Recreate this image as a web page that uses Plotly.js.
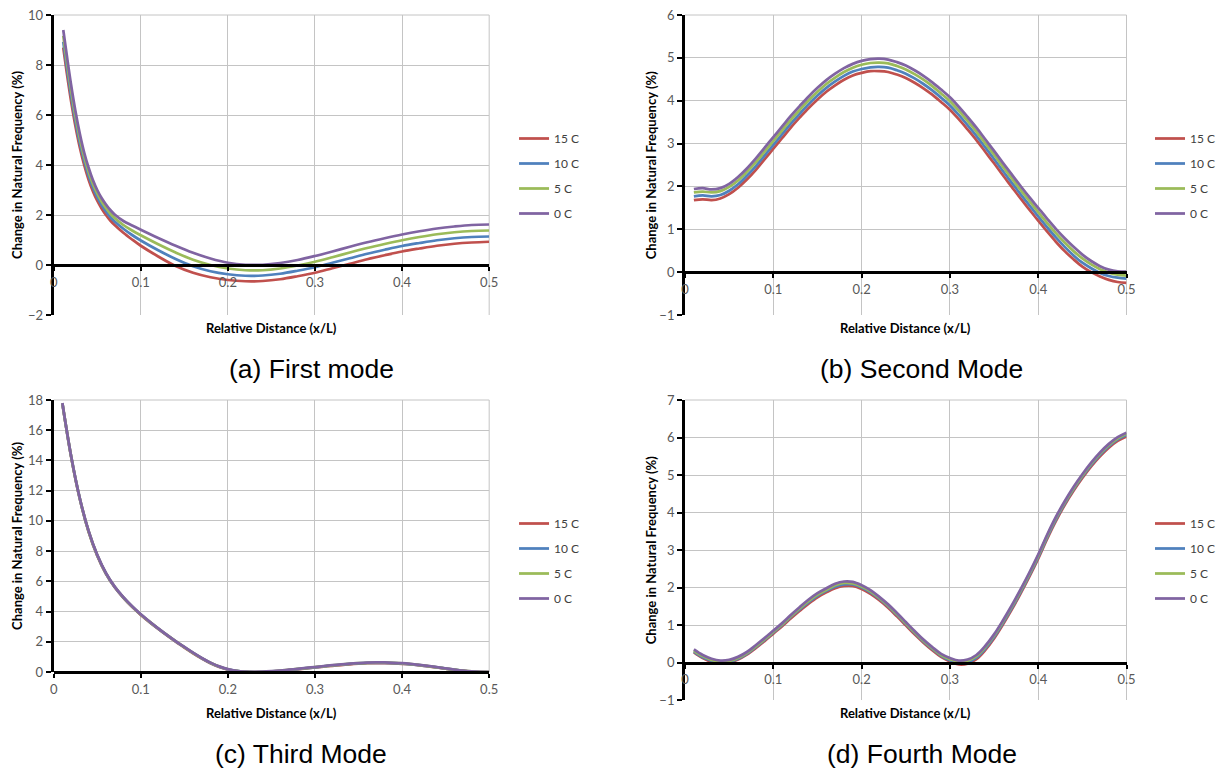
<!DOCTYPE html>
<html>
<head>
<meta charset="utf-8">
<script src="https://cdn.plot.ly/plotly-3.0.1.min.js"></script>
<style>html,body{margin:0;padding:0;background:#fff;}#chart{width:1221px;height:770px;}</style>
</head>
<body>
<div id="chart"></div>
<script>
// ---------------- DATA ----------------
const seriesNames = ["15 C", "10 C", "5 C", "0 C"];
const seriesColors = ["#C0504D", "#4F81BD", "#9BBB59", "#8064A2"];

const xFirst = [0.011,0.015,0.02,0.025,0.03,0.035,0.04,0.045,0.05,0.055,0.06,0.065,0.07,0.08,0.09,0.1,0.12,0.14,0.16,0.18,0.2,0.22,0.24,0.26,0.28,0.3,0.32,0.34,0.36,0.38,0.4,0.42,0.44,0.46,0.48,0.5];
const first15 = [8.7,7.7,6.55,5.55,4.7,4.0,3.42,2.95,2.57,2.26,2.0,1.78,1.6,1.29,1.02,0.77,0.34,-0.04,-0.31,-0.49,-0.6,-0.65,-0.64,-0.57,-0.45,-0.31,-0.13,0.05,0.23,0.39,0.54,0.66,0.77,0.85,0.9,0.93];
const first10 = [8.93,7.93,6.77,5.75,4.88,4.17,3.58,3.1,2.71,2.4,2.14,1.92,1.74,1.45,1.2,0.98,0.59,0.24,-0.05,-0.25,-0.37,-0.43,-0.42,-0.35,-0.23,-0.09,0.09,0.27,0.45,0.61,0.76,0.88,0.99,1.07,1.12,1.14];
const first5  = [9.17,8.17,6.99,5.95,5.07,4.33,3.74,3.25,2.86,2.54,2.28,2.06,1.88,1.6,1.38,1.19,0.83,0.5,0.21,0.0,-0.14,-0.21,-0.21,-0.14,-0.02,0.13,0.31,0.5,0.68,0.84,0.99,1.12,1.23,1.31,1.36,1.38];
const first0  = [9.4,8.4,7.2,6.15,5.25,4.5,3.9,3.4,3.0,2.68,2.42,2.2,2.02,1.76,1.58,1.41,1.08,0.77,0.49,0.26,0.09,0.01,0.01,0.08,0.2,0.36,0.54,0.73,0.91,1.07,1.22,1.35,1.46,1.54,1.6,1.62];

const xFine = [0.01,0.02,0.03,0.04,0.05,0.06,0.07,0.08,0.09,0.1,0.11,0.12,0.13,0.14,0.15,0.16,0.17,0.18,0.19,0.2,0.21,0.22,0.23,0.24,0.25,0.26,0.27,0.28,0.29,0.3,0.31,0.32,0.33,0.34,0.35,0.36,0.37,0.38,0.39,0.4,0.41,0.42,0.43,0.44,0.45,0.46,0.47,0.48,0.49,0.5];

const second15 = [1.68,1.7,1.68,1.72,1.82,1.97,2.16,2.38,2.63,2.88,3.13,3.38,3.61,3.83,4.03,4.21,4.36,4.49,4.59,4.65,4.69,4.69,4.67,4.61,4.53,4.42,4.29,4.14,3.97,3.79,3.57,3.33,3.08,2.81,2.54,2.26,1.99,1.72,1.46,1.2,0.95,0.71,0.49,0.3,0.13,0.0,-0.1,-0.18,-0.23,-0.25];
const second10 = [1.77,1.79,1.77,1.8,1.9,2.05,2.25,2.47,2.72,2.97,3.22,3.47,3.7,3.92,4.12,4.3,4.45,4.58,4.68,4.74,4.78,4.79,4.77,4.71,4.63,4.52,4.39,4.24,4.07,3.89,3.67,3.43,3.18,2.91,2.64,2.36,2.09,1.82,1.56,1.3,1.05,0.81,0.59,0.39,0.22,0.09,-0.02,-0.09,-0.13,-0.15];
const second5  = [1.86,1.88,1.86,1.89,1.99,2.14,2.34,2.56,2.81,3.06,3.31,3.56,3.79,4.01,4.21,4.39,4.54,4.67,4.77,4.84,4.88,4.89,4.87,4.81,4.73,4.62,4.49,4.34,4.17,3.99,3.77,3.53,3.28,3.01,2.74,2.46,2.19,1.92,1.66,1.4,1.15,0.91,0.69,0.49,0.32,0.18,0.07,-0.01,-0.06,-0.08];
const second0  = [1.94,1.96,1.93,1.96,2.06,2.22,2.42,2.65,2.9,3.15,3.4,3.65,3.88,4.1,4.3,4.48,4.63,4.76,4.86,4.93,4.97,4.98,4.96,4.9,4.82,4.71,4.58,4.43,4.26,4.08,3.86,3.62,3.37,3.1,2.83,2.55,2.28,2.01,1.75,1.5,1.25,1.01,0.79,0.59,0.41,0.26,0.14,0.06,0.02,0.01];

const third15 = [17.75,14.25,11.45,9.3,7.7,6.5,5.61,4.91,4.31,3.78,3.3,2.85,2.42,2.01,1.62,1.24,0.89,0.58,0.34,0.16,0.06,0.01,-0.01,0.0,0.03,0.07,0.12,0.18,0.24,0.3,0.36,0.41,0.46,0.51,0.55,0.58,0.59,0.59,0.57,0.54,0.5,0.44,0.37,0.3,0.22,0.14,0.08,0.03,0.0,-0.01];
const third10 = [17.77,14.27,11.47,9.32,7.72,6.52,5.63,4.93,4.33,3.8,3.32,2.87,2.44,2.03,1.64,1.26,0.91,0.6,0.35,0.17,0.07,0.02,0.0,0.01,0.04,0.08,0.13,0.19,0.25,0.31,0.37,0.43,0.48,0.53,0.57,0.6,0.61,0.61,0.59,0.56,0.51,0.45,0.38,0.31,0.23,0.15,0.08,0.03,0.0,0.0];
const third5  = [17.78,14.28,11.48,9.33,7.73,6.53,5.64,4.94,4.34,3.81,3.33,2.88,2.45,2.04,1.65,1.27,0.92,0.61,0.36,0.18,0.07,0.02,0.0,0.01,0.04,0.08,0.14,0.2,0.26,0.32,0.38,0.44,0.49,0.54,0.58,0.61,0.62,0.62,0.6,0.57,0.52,0.46,0.39,0.31,0.23,0.15,0.09,0.04,0.01,0.0];
const third0  = [17.8,14.3,11.5,9.35,7.75,6.55,5.65,4.95,4.35,3.82,3.34,2.89,2.46,2.05,1.66,1.28,0.93,0.62,0.37,0.19,0.08,0.03,0.01,0.02,0.05,0.09,0.15,0.21,0.27,0.33,0.39,0.45,0.5,0.55,0.59,0.62,0.63,0.63,0.61,0.58,0.53,0.47,0.4,0.32,0.24,0.16,0.09,0.04,0.01,0.0];

const fourth15 = [0.27,0.12,0.02,-0.02,0.0,0.08,0.21,0.38,0.57,0.77,0.97,1.18,1.38,1.57,1.74,1.87,1.98,2.04,2.04,1.96,1.83,1.66,1.46,1.23,0.99,0.75,0.53,0.33,0.15,0.03,-0.05,-0.03,0.09,0.33,0.64,1.01,1.41,1.84,2.29,2.77,3.29,3.77,4.2,4.58,4.92,5.23,5.5,5.73,5.91,6.03];
const fourth10 = [0.29,0.14,0.05,0.0,0.02,0.1,0.23,0.41,0.6,0.8,1.0,1.22,1.42,1.61,1.78,1.91,2.02,2.08,2.08,2.0,1.87,1.7,1.5,1.27,1.03,0.79,0.56,0.36,0.18,0.06,-0.01,0.01,0.13,0.37,0.68,1.05,1.45,1.88,2.33,2.81,3.33,3.81,4.24,4.62,4.96,5.27,5.54,5.77,5.95,6.07];
const fourth5  = [0.32,0.17,0.07,0.02,0.04,0.12,0.25,0.43,0.62,0.82,1.02,1.24,1.45,1.64,1.81,1.94,2.06,2.12,2.11,2.03,1.9,1.72,1.52,1.29,1.05,0.81,0.58,0.38,0.2,0.09,0.02,0.05,0.17,0.41,0.72,1.09,1.49,1.92,2.37,2.85,3.37,3.85,4.27,4.65,4.99,5.3,5.57,5.8,5.98,6.1];
const fourth0  = [0.35,0.2,0.1,0.05,0.07,0.15,0.28,0.46,0.65,0.85,1.05,1.27,1.48,1.68,1.85,1.98,2.1,2.16,2.15,2.06,1.93,1.75,1.55,1.32,1.08,0.84,0.61,0.41,0.23,0.12,0.05,0.08,0.2,0.44,0.75,1.12,1.52,1.95,2.4,2.88,3.4,3.88,4.3,4.68,5.02,5.33,5.6,5.83,6.01,6.13];

const captions = ["(a) First mode", "(b) Second Mode", "(c) Third Mode", "(d) Fourth Mode"];
const xTitle = "Relative Distance (x/L)";
const yTitle = "Change in Natural Frequency (%)";
const yRanges = [[-2, 10], [-1, 6], [0, 18], [-1, 7]];
const yDticks = [2, 1, 2, 1];

// ---------------- LAYOUT ----------------
const W = 1221, H = 770;
const px = v => v / W;
const py = v => 1 - v / H;

const panels = [
  {x: xFirst, ys: [first15, first10, first5, first0], xd: [54, 492], yd: [315, 15], leg: [517, 124]},
  {x: xFine,  ys: [second15, second10, second5, second0], xd: [689, 1133], yd: [315, 15], leg: [1157, 124]},
  {x: xFine,  ys: [third15, third10, third5, third0], xd: [54, 492], yd: [672, 400], leg: [517, 509]},
  {x: xFine,  ys: [fourth15, fourth10, fourth5, fourth0], xd: [689, 1133], yd: [700, 400], leg: [1157, 509]}
];
const capPos = [[313, 369], [927, 369], [303, 754], [927, 754]];
const xTitlePos = [328, 328, 713, 713];
const yTitleX = [17, 655, 17, 655];

const FONT = "Lato, 'Open Sans', sans-serif";
const traces = [];
const layout = {
  width: W, height: H,
  margin: {l: 0, r: 0, t: 0, b: 0},
  paper_bgcolor: "#ffffff", plot_bgcolor: "#ffffff",
  font: {family: FONT, size: 13, color: "#595959"},
  annotations: [], shapes: []
};

panels.forEach((p, i) => {
  const n = i === 0 ? "" : String(i + 1);
  const legName = "legend" + n;
  p.ys.forEach((ys, k) => {
    traces.push({
      x: p.x, y: ys, type: "scatter", mode: "lines",
      name: seriesNames[k],
      line: {color: seriesColors[k], width: 2.75, shape: "spline", smoothing: 1},
      xaxis: "x" + n, yaxis: "y" + n,
      legend: legName, legendgroup: legName + "_" + k,
      hoverinfo: "x+y"
    });
  });
  const xdom = [px(p.xd[0]), px(p.xd[1])];
  const ydom = [py(p.yd[0]), py(p.yd[1])];
  const yr = yRanges[i];
  const zeroFrac = ydom[0] + (0 - yr[0]) / (yr[1] - yr[0]) * (ydom[1] - ydom[0]);
  layout["xaxis" + n] = {
    domain: xdom, range: [0, 0.5], dtick: 0.1, tick0: 0,
    anchor: "free", position: zeroFrac,
    showline: true, linecolor: "#000000", linewidth: 3,
    ticks: "outside", ticklen: 4, tickwidth: 2, tickcolor: "#000000",
    showgrid: true, gridcolor: "#c4c4c4", gridwidth: 1,
    zeroline: false, tickfont: {family: FONT, size: 13, color: "#595959"},
    fixedrange: true
  };
  layout["yaxis" + n] = {
    domain: ydom, range: yr, dtick: yDticks[i], tick0: 0,
    anchor: "x" + n,
    showline: true, linecolor: "#000000", linewidth: 3,
    ticks: "outside", ticklen: 5, tickwidth: 2, tickcolor: "#000000",
    showgrid: true, gridcolor: "#c4c4c4", gridwidth: 1,
    zeroline: false, tickfont: {family: FONT, size: 13, color: "#595959"},
    fixedrange: true
  };
  layout[legName] = {
    x: px(p.leg[0]), y: py(p.leg[1]), xanchor: "left", yanchor: "top",
    bgcolor: "rgba(0,0,0,0)", borderwidth: 0,
    font: {family: FONT, size: 12, color: "#404040"},
    traceorder: "grouped", tracegroupgap: 6
  };
  // frame on top and right (grey)
  layout.shapes.push({type: "line", xref: "x" + n + " domain", yref: "y" + n + " domain",
    x0: 0, x1: 1, y0: 1, y1: 1, line: {color: "#c4c4c4", width: 1}, layer: "below"});
  layout.shapes.push({type: "line", xref: "x" + n + " domain", yref: "y" + n + " domain",
    x0: 1, x1: 1, y0: 0, y1: 1, line: {color: "#c4c4c4", width: 1}, layer: "below"});
  // axis titles and caption
  layout.annotations.push({
    text: "<b>" + xTitle + "</b>", xref: "paper", yref: "paper",
    x: (xdom[0] + xdom[1]) / 2, y: py(xTitlePos[i]), xanchor: "center", yanchor: "middle",
    showarrow: false, font: {family: FONT, size: 13, color: "#000000"}
  });
  layout.annotations.push({
    text: "<b>" + yTitle + "</b>", xref: "paper", yref: "paper",
    x: px(yTitleX[i]), y: (ydom[0] + ydom[1]) / 2, xanchor: "center", yanchor: "middle",
    textangle: -90, showarrow: false, font: {family: FONT, size: 13, color: "#000000"}
  });
  layout.annotations.push({
    text: captions[i], xref: "paper", yref: "paper",
    x: px(capPos[i][0]), y: py(capPos[i][1]), xanchor: "center", yanchor: "middle",
    showarrow: false, font: {family: "'Liberation Sans', Arial, sans-serif", size: 26.5, color: "#000000"}
  });
});

Plotly.newPlot("chart", traces, layout, {displayModeBar: false, staticPlot: true});
</script>
</body>
</html>
